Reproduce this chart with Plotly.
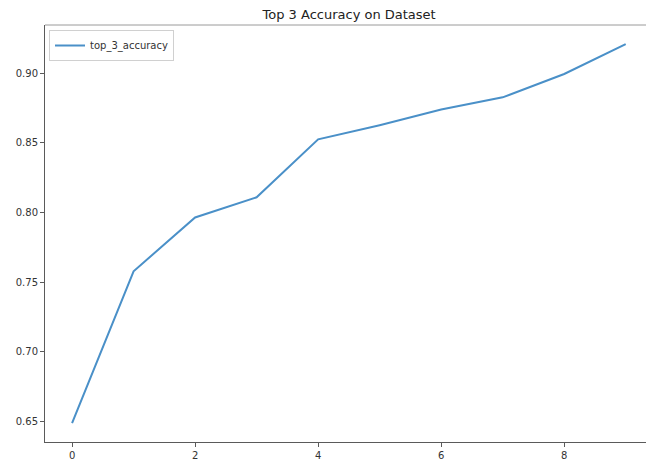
import plotly.graph_objects as go

epochs = [0, 1, 2, 3, 4, 5, 6, 7, 8, 9]
top_3_accuracy = [0.6487, 0.7578, 0.7965, 0.8110, 0.8526, 0.8628, 0.8740, 0.8828, 0.8996, 0.9210]
x_ticks = [0, 2, 4, 6, 8]
y_ticks = [0.65, 0.70, 0.75, 0.80, 0.85, 0.90]
title_text = "Top 3 Accuracy on Dataset"
series_name = "top_3_accuracy"

font_family = "DejaVu Sans, Verdana, sans-serif"
spine = "#5a5a5a"

fig = go.Figure()
fig.add_trace(go.Scatter(
    x=epochs, y=top_3_accuracy, mode="lines", name=series_name,
    line=dict(color="#4a90c8", width=2),
))

fig.update_layout(
    width=646, height=462,
    margin=dict(l=45, r=0, t=25, b=20, autoexpand=False),
    paper_bgcolor="white", plot_bgcolor="white",
    font=dict(family=font_family, size=10, color="#333333"),
    title=dict(text=title_text, x=0.506, xref="paper", xanchor="center",
               y=1 - 14 / 462, yref="container", yanchor="middle",
               font=dict(size=13, color="#222222", family=font_family)),
    showlegend=True,
    legend=dict(x=0.0067, y=0.988, xanchor="left", yanchor="top",
                bgcolor="white", bordercolor="#d0d0d0", borderwidth=1,
                font=dict(size=10, color="#333333"),
                itemwidth=30, tracegroupgap=0),
    xaxis=dict(range=[-0.44, 9.33], tickvals=x_ticks, ticktext=[str(v) for v in x_ticks],
               automargin=False,
               showgrid=False, zeroline=False, showline=True, linecolor=spine, linewidth=1,
               ticks="outside", ticklen=4, tickcolor=spine, tickwidth=1),
    yaxis=dict(range=[0.6351, 0.9348], tickvals=y_ticks, ticktext=[f"{v:.2f}" for v in y_ticks],
               automargin=False,
               showgrid=False, zeroline=False, showline=True, linecolor=spine, linewidth=1,
               ticks="outside", ticklen=4, tickcolor=spine, tickwidth=1),
)
fig.add_shape(type="line", xref="paper", yref="paper", x0=0, x1=1, y0=1, y1=1,
              line=dict(color="#9a9a9a", width=1))

fig.write_html("out.html", config={"displayModeBar": False},
               post_script="document.body.style.margin='0px';document.body.style.overflow='hidden';")
